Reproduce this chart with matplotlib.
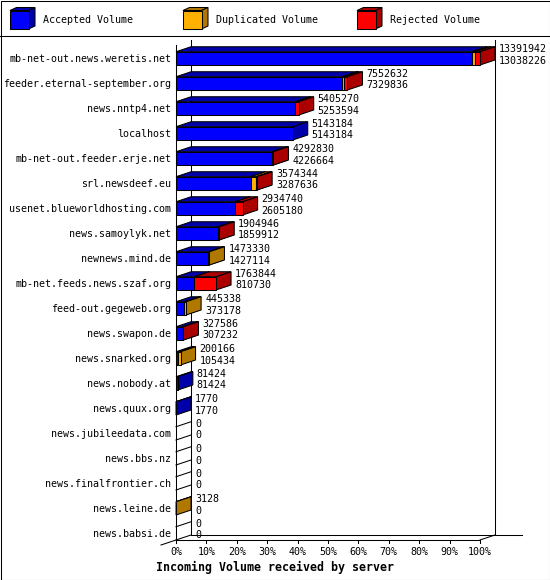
import numpy as np
import matplotlib.pyplot as plt
from matplotlib.patches import Polygon, Rectangle

#%% Datos
hosts = ['mb-net-out.news.weretis.net', 'feeder.eternal-september.org',
         'news.nntp4.net', 'localhost', 'mb-net-out.feeder.erje.net',
         'srl.newsdeef.eu', 'usenet.blueworldhosting.com', 'news.samoylyk.net',
         'newnews.mind.de', 'mb-net.feeds.news.szaf.org', 'feed-out.gegeweb.org',
         'news.swapon.de', 'news.snarked.org', 'news.nobody.at', 'news.quux.org',
         'news.jubileedata.com', 'news.bbs.nz', 'news.finalfrontier.ch',
         'news.leine.de', 'news.babsi.de']
accepted = [13038226, 7329836, 5253594, 5143184, 4226664, 3287636, 2605180,
            1859912, 1427114, 810730, 373178, 307232, 105434, 81424, 1770,
            0, 0, 0, 0, 0]
duplicated = [150000, 50000, 0, 0, 40000, 250000, 0, 0, 46216, 0, 72160, 0,
              94732, 0, 0, 0, 0, 0, 3128, 0]
rejected = [203716, 172796, 151676, 0, 26166, 36708, 329560, 45034, 0, 953114,
            0, 20354, 0, 0, 0, 0, 0, 0, 0, 0]
series = ['Accepted Volume', 'Duplicated Volume', 'Rejected Volume']
front_colors = ['#0000ff', '#ffb000', '#ff0000']
dark_colors = ['#0000aa', '#b07800', '#aa0000']
xticks = np.arange(0, 101, 10)

W, H = 550, 580
FONT = 'DejaVu Sans Mono'
FS = 7.2
LW = 0.75

fig = plt.figure(figsize=(W / 100, H / 100), dpi=100)

#%% Marco y leyenda (coordenadas en pixeles)
bg = fig.add_axes([0, 0, 1, 1])
bg.set_xlim(0, W)
bg.set_ylim(H, 0)
bg.axis('off')
bg.add_patch(Rectangle((0.5, 0.5), W - 1, H - 1, fill=False, ec='black', lw=LW))
bg.plot([0, W], [35.5, 35.5], color='black', lw=LW)

def cubo(x, y, s, d, cf, cd):
    top = [(x, y), (x + d, y - 3), (x + s + d, y - 3), (x + s, y)]
    side = [(x + s, y), (x + s + d, y - 3), (x + s + d, y + s - 3), (x + s, y + s)]
    for pts, c in ((top, cd), (side, cd)):
        bg.add_patch(Polygon(pts, closed=True, fc=c, ec='black', lw=LW))
    bg.add_patch(Rectangle((x, y), s, s, fc=cf, ec='black', lw=LW))

for k, (lx, tx) in enumerate([(10, 43), (183, 216), (357, 390)]):
    cubo(lx, 10.5, 18.5, 6.5, front_colors[k], dark_colors[k])
    bg.text(tx, 20, series[k], family=FONT, fontsize=FS, va='center', ha='left')

bg.text(156, 567, 'Incoming Volume received by server', family=FONT,
        fontsize=8.4, fontweight='bold', va='center', ha='left')

#%% Plano frontal del grafico: 0..100 % y una fila por servidor
x0, x1, ytop, ybot = 176, 480, 40, 540
n = len(hosts)
ax = fig.add_axes([x0 / W, 1 - ybot / H, (x1 - x0) / W, (ybot - ytop) / H])
ax.set_xlim(0, 100)
ax.set_ylim(n, 0)
ax.axis('off')

px = 100 / (x1 - x0)      # % por pixel
py = n / (ybot - ytop)    # filas por pixel
DX, DY = 15 * px, -5 * py
BT = 0.47                 # borde superior de la barra dentro de la fila

def linea(xs, ys):
    ax.plot(xs, ys, color='black', lw=LW, clip_on=False, zorder=1)

# ejes y pared
linea([0, 0], [5 * py, n])
linea([DX, DX], [0, n + DY])
linea([0, 100], [n, n])
linea([DX, 100 + DX + 27 * px], [n + DY, n + DY])
linea([100 + DX, 100 + DX], [0, n + DY])
linea([-DX, 0], [n - DY, n])
linea([100, 100 + DX], [n, n + DY])
for t in xticks:
    linea([t, t], [n, n + 3 * py])
    ax.text(t, n + 12 * py, f'{t}%', family=FONT, fontsize=FS,
            ha='center', va='center', clip_on=False)

def caja(xa, xb, r, cf, cd):
    top, bot = r + BT, r + 1.0
    top_face = [(xa, top), (xa + DX, top + DY), (xb + DX, top + DY), (xb, top)]
    side = [(xb, top), (xb + DX, top + DY), (xb + DX, bot + DY), (xb, bot)]
    front = [(xa, top), (xb, top), (xb, bot), (xa, bot)]
    for pts, c in ((top_face, cd), (side, cd), (front, cf)):
        ax.add_patch(Polygon(pts, closed=True, fc=c, ec='black', lw=LW,
                             clip_on=False, zorder=2))

totals = [a + d + r for a, d, r in zip(accepted, duplicated, rejected)]
escala = 100 / max(totals)

for i, host in enumerate(hosts):
    ax.text(-5 * px, i + 0.75, host, family=FONT, fontsize=FS,
            ha='right', va='center', clip_on=False)
    vals = [accepted[i], duplicated[i], rejected[i]]
    if totals[i] == 0:
        linea([0, DX], [i + BT, i + BT + DY])
        linea([0, DX], [i + 1.0, i + 1.0 + DY])
    inicio = 0
    for k, v in enumerate(vals):
        if v <= 0:
            continue
        fin = inicio + v * escala
        caja(inicio, fin, i, front_colors[k], dark_colors[k])
        inicio = fin
    xl = totals[i] * escala + DX + 4 * px
    ax.text(xl, i + 0.36, str(totals[i]), family=FONT, fontsize=FS,
            ha='left', va='center', clip_on=False)
    ax.text(xl, i + 0.82, str(accepted[i]), family=FONT, fontsize=FS,
            ha='left', va='center', clip_on=False)

fig.savefig('out.png', dpi=100)
